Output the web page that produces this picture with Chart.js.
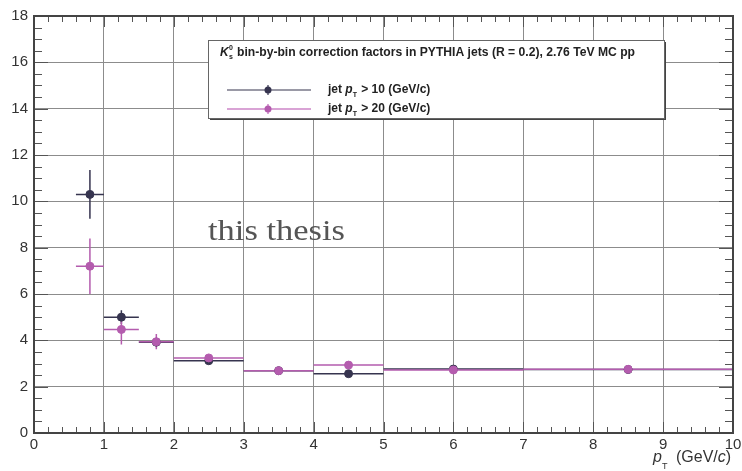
<!DOCTYPE html>
<html>
<head>
<meta charset="utf-8">
<script src="https://cdn.jsdelivr.net/npm/chart.js@4/dist/chart.umd.min.js"></script>
<style>
body { margin: 0; background: #fff; }
#wrap { width: 742px; height: 471px; }
</style>
</head>
<body>
<div id="wrap"><canvas id="grafica" width="742" height="471"></canvas></div>
<script>
// bins in pT (GeV/c)
var binLow = [0.6, 1.0, 1.5, 2.0, 3.0, 4.0, 5.0, 7.0];
var binHigh = [1.0, 1.5, 2.0, 3.0, 4.0, 5.0, 7.0, 10.0];
var binCenter = [0.8, 1.25, 1.75, 2.5, 3.5, 4.5, 6.0, 8.5];

// correction factors, jet pT > 10
var corr10 = [10.3, 5.0, 3.92, 3.12, 2.69, 2.56, 2.76, 2.74];
var err10 = [1.05, 0.3, 0.15, 0.08, 0.06, 0.06, 0.05, 0.04];
// correction factors, jet pT > 20
var corr20 = [7.2, 4.47, 3.94, 3.24, 2.69, 2.93, 2.72, 2.75];
var err20 = [1.2, 0.65, 0.33, 0.1, 0.07, 0.08, 0.06, 0.05];

var xTicks = [0, 1, 2, 3, 4, 5, 6, 7, 8, 9, 10];
var yTicks = [0, 2, 4, 6, 8, 10, 12, 14, 16, 18];
var seriesCut = ['10', '20'];

var colDark = '#36344f';
var colPink = '#b45cae';
var colPinkLight = '#d9a3d5';
var fuente = '"Liberation Sans", Arial, sans-serif';

function puntos(vals) {
    var out = [];
    for (var i = 0; i < binCenter.length; i++) {
        out.push({ x: binCenter[i], y: vals[i] });
    }
    return out;
}

// horizontal bin widths + vertical errors
const barrasError = {
    id: 'barrasError',
    beforeDatasetsDraw(chart) {
        var ctx = chart.ctx;
        var xs = chart.scales.x, ys = chart.scales.y;
        var sets = [
            { v: corr10, e: err10, c: colDark },
            { v: corr20, e: err20, c: colPink }
        ];
        ctx.save();
        sets.forEach(function (s) {
            ctx.strokeStyle = s.c;
            ctx.lineWidth = 1.5;
            for (var i = 0; i < binCenter.length; i++) {
                var py = ys.getPixelForValue(s.v[i]);
                var px = xs.getPixelForValue(binCenter[i]);
                ctx.beginPath();
                ctx.moveTo(xs.getPixelForValue(binLow[i]), py);
                ctx.lineTo(xs.getPixelForValue(binHigh[i]), py);
                ctx.moveTo(px, ys.getPixelForValue(s.v[i] + s.e[i]));
                ctx.lineTo(px, ys.getPixelForValue(s.v[i] - s.e[i]));
                ctx.stroke();
            }
        });
        ctx.restore();
    }
};

// texto con p_T
function textoPT(ctx, x, y, antes, despues, size) {
    ctx.font = 'bold ' + size + 'px ' + fuente;
    ctx.fillText(antes, x, y);
    x += ctx.measureText(antes).width;
    ctx.font = 'italic bold ' + size + 'px ' + fuente;
    ctx.fillText('p', x, y);
    x += ctx.measureText('p').width;
    ctx.font = 'bold ' + Math.round(size * 0.6) + 'px ' + fuente;
    ctx.fillText('T', x, y + 4);
    x += ctx.measureText('T').width + 1;
    ctx.font = 'bold ' + size + 'px ' + fuente;
    ctx.fillText(despues, x, y);
}

const marco = {
    id: 'marco',
    afterDraw(chart) {
        var ctx = chart.ctx;
        var a = chart.chartArea;
        var xs = chart.scales.x, ys = chart.scales.y;
        ctx.save();
        // minor ticks
        ctx.strokeStyle = '#555';
        ctx.lineWidth = 1;
        ctx.beginPath();
        for (var t = 0; t <= 10.001; t += 0.2) {
            var px = Math.round(xs.getPixelForValue(t)) + 0.5;
            var big = Math.abs(t - Math.round(t)) < 0.01;
            var len = big ? 11 : 6;
            ctx.moveTo(px, a.bottom); ctx.lineTo(px, a.bottom - len);
            ctx.moveTo(px, a.top); ctx.lineTo(px, a.top + len);
        }
        for (var v = 0; v <= 18.001; v += 0.5) {
            var py = Math.round(ys.getPixelForValue(v)) + 0.5;
            var bigY = Math.abs(v / 2 - Math.round(v / 2)) < 0.01;
            var lenY = bigY ? 14 : 8;
            ctx.moveTo(a.left, py); ctx.lineTo(a.left + lenY, py);
            ctx.moveTo(a.right, py); ctx.lineTo(a.right - lenY, py);
        }
        ctx.stroke();
        // frame
        ctx.strokeStyle = '#444';
        ctx.lineWidth = 2;
        ctx.strokeRect(a.left, a.top, a.right - a.left, a.bottom - a.top);

        // legend box
        var bx = 208, by = 40, bw = 456, bh = 78;
        ctx.fillStyle = '#444';
        ctx.fillRect(bx + 2, by + 2, bw, bh);
        ctx.fillStyle = '#fff';
        ctx.fillRect(bx, by, bw, bh);
        ctx.strokeStyle = '#666';
        ctx.lineWidth = 1;
        ctx.strokeRect(bx + 0.5, by + 0.5, bw, bh);

        ctx.fillStyle = '#222';
        ctx.textBaseline = 'alphabetic';
        ctx.font = 'italic bold 12px ' + fuente;
        ctx.fillText('K', 220, 56);
        ctx.font = 'bold 7px ' + fuente;
        ctx.fillText('0', 229, 50);
        ctx.fillText('s', 229, 59);
        ctx.font = 'bold 12px ' + fuente;
        var titulo = 'bin-by-bin correction factors in PYTHIA jets (R = 0.2), 2.76 TeV MC pp';
        var tw = ctx.measureText(titulo).width;
        ctx.save();
        ctx.translate(237, 56);
        ctx.scale(398 / tw, 1);
        ctx.fillText(titulo, 0, 0);
        ctx.restore();

        var filas = [{ y: 90, c: colDark, l: colDark }, { y: 109, c: colPink, l: colPinkLight }];
        filas.forEach(function (f, i) {
            ctx.strokeStyle = f.l;
            ctx.lineWidth = i == 0 ? 1.2 : 2;
            ctx.beginPath();
            ctx.moveTo(227, f.y); ctx.lineTo(311, f.y);
            ctx.moveTo(268, f.y - 5); ctx.lineTo(268, f.y + 5);
            ctx.stroke();
            ctx.fillStyle = f.c;
            ctx.beginPath();
            ctx.arc(268, f.y, 3.5, 0, Math.PI * 2);
            ctx.fill();
            ctx.fillStyle = '#222';
            textoPT(ctx, 328, f.y + 3, 'jet ', ' > ' + seriesCut[i] + ' (GeV/c)', 12);
        });

        // watermark
        ctx.fillStyle = '#555';
        ctx.font = '29px "Liberation Serif", "DejaVu Serif", serif';
        var ww = ctx.measureText('this thesis').width;
        ctx.save();
        ctx.translate(208, 240);
        ctx.scale(137 / ww, 1);
        ctx.fillText('this thesis', 0, 0);
        ctx.restore();

        // x axis title
        ctx.fillStyle = '#333';
        ctx.font = 'italic 16px ' + fuente;
        ctx.fillText('p', 653, 462);
        ctx.font = '9px ' + fuente;
        ctx.fillText('T', 662, 469);
        ctx.font = '16px ' + fuente;
        var x0 = 676;
        ctx.fillText('(GeV/', x0, 462);
        var w = ctx.measureText('(GeV/').width;
        ctx.font = 'italic 16px ' + fuente;
        ctx.fillText('c', x0 + w, 462);
        var w2 = ctx.measureText('c').width;
        ctx.font = '16px ' + fuente;
        ctx.fillText(')', x0 + w + w2, 462);
        ctx.restore();
    }
};

new Chart('grafica', {
    type: 'scatter',
    data: {
        datasets: [
            { data: puntos(corr10), order: 2, backgroundColor: colDark, borderColor: colDark, pointRadius: 4, pointHoverRadius: 4 },
            { data: puntos(corr20), order: 1, backgroundColor: colPink, borderColor: colPink, pointRadius: 4, pointHoverRadius: 4 }
        ]
    },
    options: {
        responsive: false,
        animation: false,
        layout: { padding: { top: 16, right: 9, left: 0, bottom: 0 } },
        plugins: { legend: { display: false }, tooltip: { enabled: false } },
        scales: {
            x: {
                type: 'linear', min: 0, max: 10,
                afterBuildTicks: function (s) { s.ticks = xTicks.map(function (v) { return { value: v }; }); },
                afterFit: function (s) { s.height = 38; s.paddingLeft = 0; s.paddingRight = 0; },
                grid: { color: '#8c8c8c', lineWidth: 1, drawTicks: false },
                border: { color: '#444', width: 2 },
                ticks: { padding: 3, color: '#333', font: { family: fuente, size: 15 }, maxRotation: 0 }
            },
            y: {
                type: 'linear', min: 0, max: 18,
                afterBuildTicks: function (s) { s.ticks = yTicks.map(function (v) { return { value: v }; }); },
                afterFit: function (s) { s.width = 34; s.paddingTop = 0; s.paddingBottom = 0; },
                grid: { color: '#8c8c8c', lineWidth: 1, drawTicks: false },
                border: { color: '#444', width: 2 },
                ticks: { padding: 6, color: '#333', font: { family: fuente, size: 15 } }
            }
        }
    },
    plugins: [barrasError, marco]
});
</script>
</body>
</html>
